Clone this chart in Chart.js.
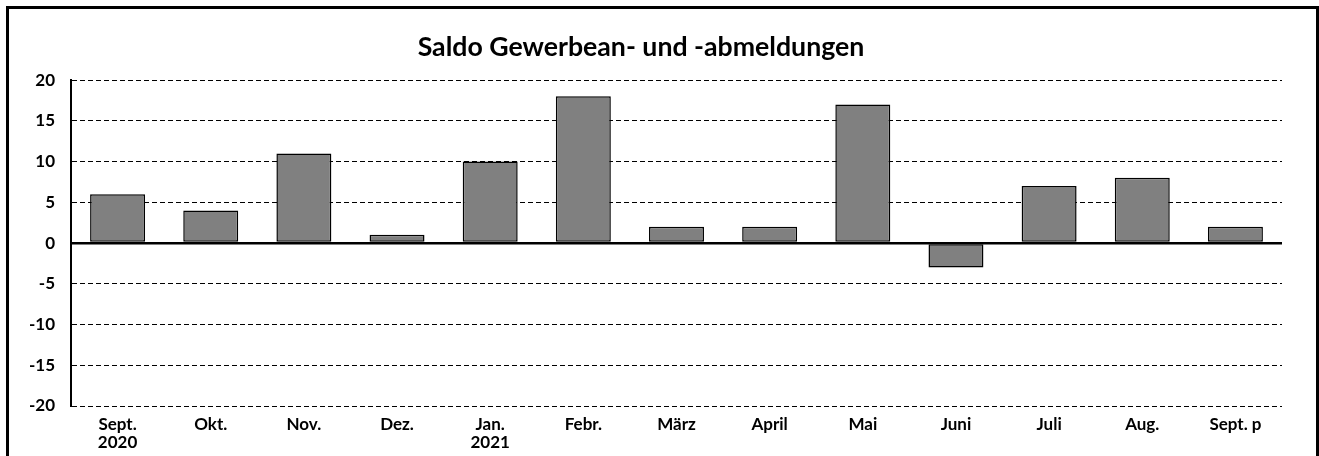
<!DOCTYPE html>
<html>
<head>
<meta charset="utf-8">
<script src="https://cdn.jsdelivr.net/npm/chart.js@4"></script>
<style>
  html, body { margin: 0; padding: 0; background: #fff; overflow: hidden; }
  #wrap { position: relative; width: 1319px; height: 456px; }
  #frame { position: absolute; left: 6px; top: 6px; width: 1307px; height: 470px; border: 3px solid #000; pointer-events: none; }
</style>
</head>
<body>
<div id="wrap">
  <canvas id="saldoChart" width="1319" height="456"></canvas>
  <div id="frame"></div>
</div>
<script>
const months = [['Sept.', '2020'], 'Okt.', 'Nov.', 'Dez.', ['Jan.', '2021'], 'Febr.', 'März', 'April', 'Mai', 'Juni', 'Juli', 'Aug.', 'Sept. p'];
const saldo = [6, 4, 11, 1, 10, 18, 2, 2, 17, -3, 7, 8, 2];
const yMin = -20;
const yMax = 20;
const yStep = 5;

const ctx = document.getElementById('saldoChart').getContext('2d');
new Chart(ctx, {
    type: 'bar',
    data: {
        labels: months,
        datasets: [{
            label: 'Saldo',
            data: saldo,
            backgroundColor: '#808080',
            borderColor: '#000000',
            borderWidth: 1.5,
            borderSkipped: false,
            barPercentage: 0.59,
            categoryPercentage: 1
        }]
    },
    options: {
        responsive: false,
        animation: false,
        layout: {
            padding: { left: 0, right: 37, top: 0, bottom: 0 }
        },
        scales: {
            x: {
                grid: { display: false },
                border: { display: false },
                ticks: {
                    color: '#000',
                    padding: 1,
                    maxRotation: 0,
                    autoSkip: false,
                    font: { family: 'Lato', weight: 'bold', size: 17, lineHeight: 1.08 }
                },
                afterFit: (scale) => { scale.height = 50; }
            },
            y: {
                min: yMin,
                max: yMax,
                ticks: {
                    stepSize: yStep,
                    color: '#000',
                    padding: 16,
                    font: { family: 'Lato', weight: 'bold', size: 17 }
                },
                grid: {
                    drawTicks: false,
                    color: '#000',
                    lineWidth: (c) => (c.tick && c.tick.value === 0 ? 2.5 : 1)
                },
                border: {
                    display: true,
                    color: '#000',
                    width: 2,
                    dash: (c) => (c.tick && c.tick.value === 0 ? [] : [5, 3])
                },
                afterFit: (scale) => { scale.width = 71; }
            }
        },
        plugins: {
            legend: { display: false },
            tooltip: { enabled: false },
            title: {
                display: true,
                text: 'Saldo Gewerbean- und -abmeldungen',
                color: '#000',
                font: { family: 'Lato', weight: 'bold', size: 26.7, lineHeight: 1.2 },
                padding: { top: 31, bottom: 17 }
            }
        }
    }
});
</script>
</body>
</html>
